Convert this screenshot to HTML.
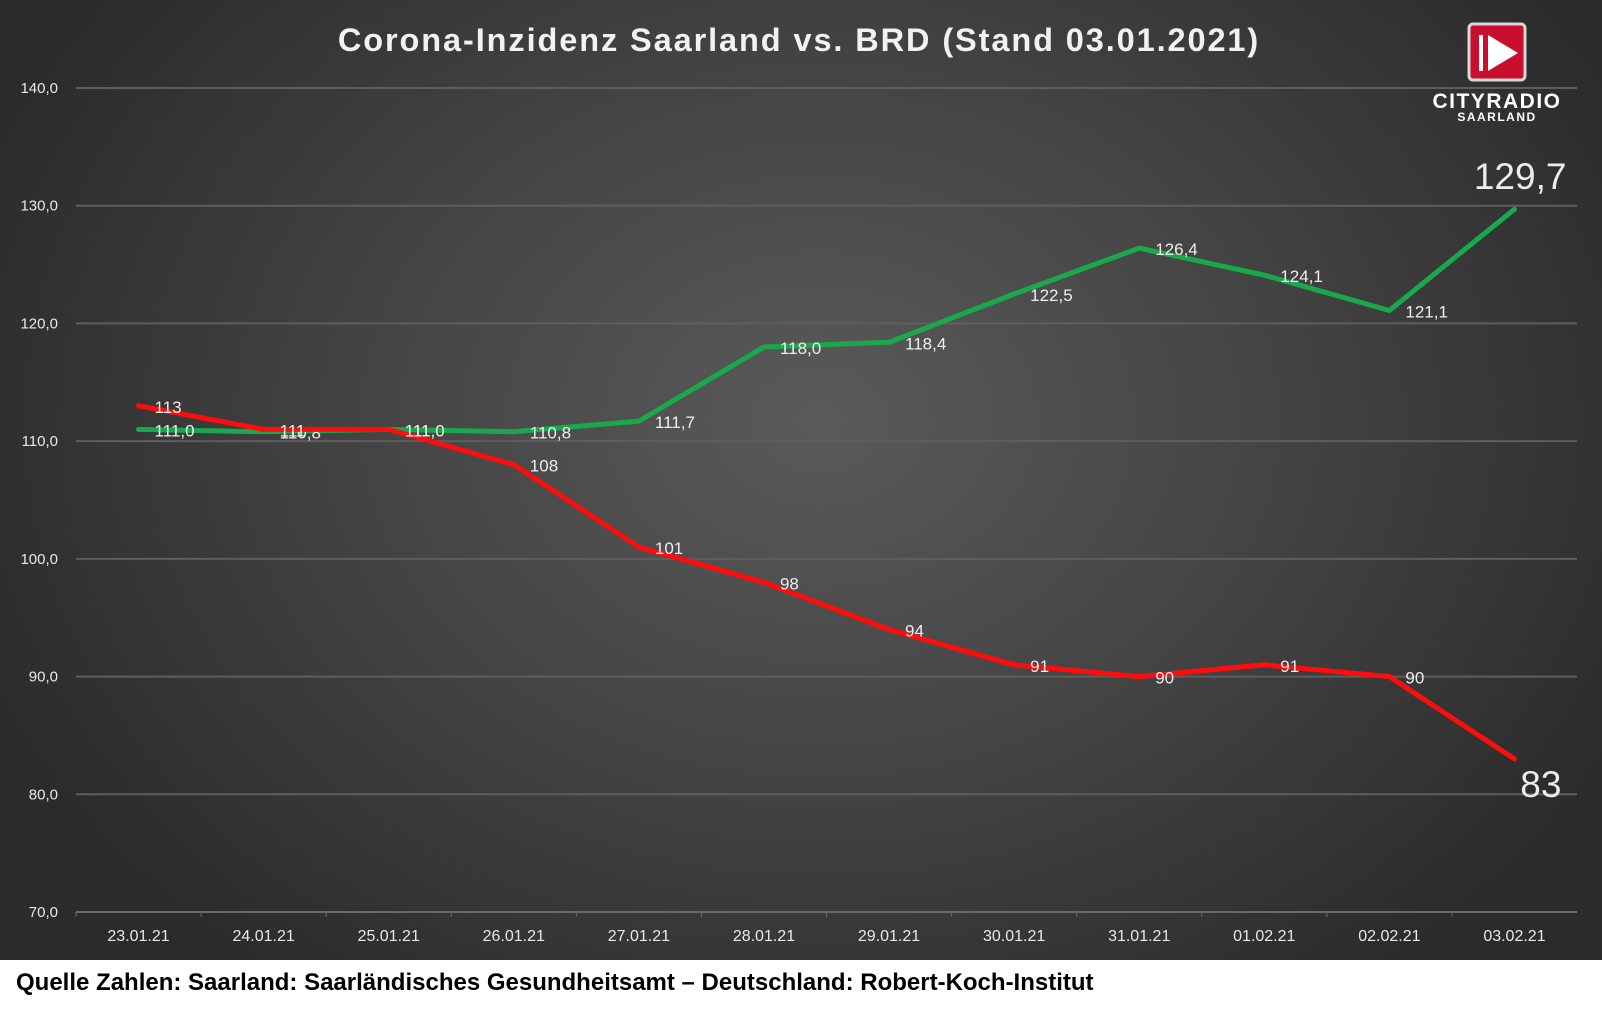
<!DOCTYPE html>
<html><head><meta charset="utf-8">
<style>
body{margin:0;width:1602px;height:1016px;background:#fff;overflow:hidden;font-family:"Liberation Sans",sans-serif}
#chart{position:absolute;left:0;top:0;width:1602px;height:960px;background:radial-gradient(ellipse 900px 700px at 820px 420px,#5a5a5a 0%,#444 50%,#2b2b2b 100%)}
#src{position:absolute;left:16px;top:969px;font-size:24px;font-weight:bold;color:#000}
</style></head><body>
<div id="chart">
<svg id="svg" width="1602" height="960"></svg>
</div>
<div id="src">Quelle Zahlen: Saarland: Saarländisches Gesundheitsamt – Deutschland: Robert-Koch-Institut</div>
<script>
const categories=["23.01.21","24.01.21","25.01.21","26.01.21","27.01.21","28.01.21","29.01.21","30.01.21","31.01.21","01.02.21","02.02.21","03.02.21"];
const brdValues=[111.0,110.8,111.0,110.8,111.7,118.0,118.4,122.5,126.4,124.1,121.1,129.7];
const saarValues=[113,111,111,108,101,98,94,91,90,91,90,83];
const yTicks=[70,80,90,100,110,120,130,140];
const NS="http://www.w3.org/2000/svg";
const svg=document.getElementById('svg');
const L=76,R=1577,T=88,B=912,yMin=70,yMax=140;
const x=i=>L+(i+0.5)*(R-L)/categories.length;
const y=v=>B-(v-yMin)/(yMax-yMin)*(B-T);
function mk(tag,attrs,txt){const e=document.createElementNS(NS,tag);for(const k in attrs)e.setAttribute(k,attrs[k]);if(txt!==undefined)e.textContent=txt;svg.appendChild(e);return e;}
const fmt=v=>v.toFixed(1).replace('.',',');
const t=mk('text',{x:799,y:51,'text-anchor':'middle','font-size':32.5,'font-weight':'bold',fill:'#f2f2f2','letter-spacing':'1.9'},'Corona-Inzidenz Saarland vs. BRD (Stand 03.01.2021)');

yTicks.forEach(v=>{
 const g=mk('line',{x1:L,x2:R,y1:y(v),y2:y(v),stroke:v===70?'#6a6a6a':'#5e5e5e','stroke-width':2});
 
 const l=mk('text',{x:58,y:y(v)+5,'text-anchor':'end','font-size':15,fill:'#e8e8e8'},fmt(v));
 
});
categories.forEach((c,i)=>{
 const tk=mk('line',{x1:L+i*(R-L)/12,x2:L+i*(R-L)/12,y1:B,y2:B+5,stroke:'#6a6a6a','stroke-width':1});
 
 const l=mk('text',{x:x(i),y:B+29,'text-anchor':'middle','font-size':16,fill:'#e8e8e8'},c);
 
});
function series(vals,color,name,lab){
 const p=mk('polyline',{points:vals.map((v,i)=>x(i)+','+y(v)).join(' '),fill:'none',stroke:color,'stroke-width':5,'stroke-linejoin':'round','stroke-linecap':'round'});
 
 vals.forEach((v,i)=>{
  const last=i===vals.length-1;
  const e=last?mk('text',{x:x(i)+(name==='brd'?52:47),y:name==='brd'?y(v)-20:y(v)+38,'text-anchor':'end','font-size':37,fill:'#ececec'},lab(v)):
   mk('text',{x:x(i)+16,y:y(v)+7,'font-size':17,fill:'#eeeeee'},lab(v));
  
 });
}
series(brdValues,'#1aa84c','brd',fmt);
series(saarValues,'#ff0d0d','saarland',v=>String(v));
const g=mk('rect',{x:1469,y:24,width:56,height:56,rx:4,fill:'#c8102e',stroke:'#d8d8d8','stroke-width':3});

const b=mk('rect',{x:1479,y:35,width:4,height:36,fill:'#fff'});
const pl=mk('polygon',{points:'1488,35 1518,53 1488,71',fill:'#fff'});
const l1=mk('text',{x:1497,y:108,'text-anchor':'middle','font-size':21,'font-weight':'bold',fill:'#fff','letter-spacing':'1.5'},'CITYRADIO');
const l2=mk('text',{x:1497,y:121,'text-anchor':'middle','font-size':12,'font-weight':'bold',fill:'#fff','letter-spacing':'1.5'},'SAARLAND');
</script>
</body></html>
